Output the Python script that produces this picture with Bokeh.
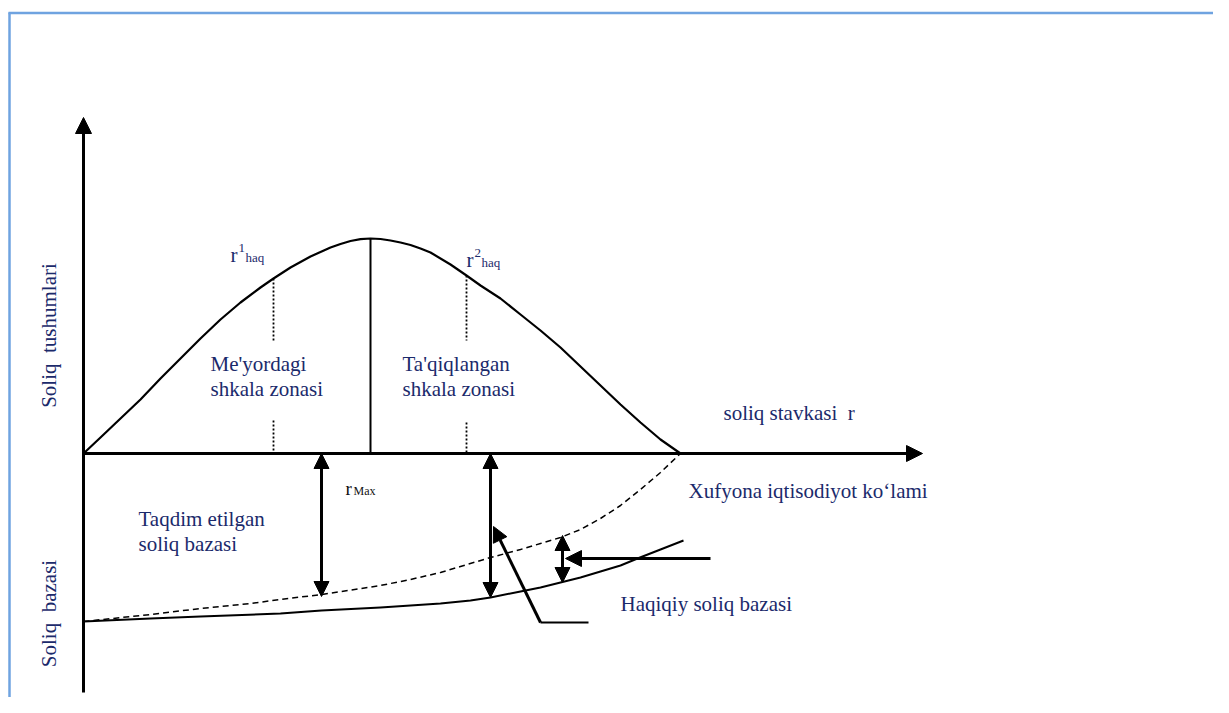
from bokeh.plotting import figure
from bokeh.models import Range1d, Arrow, NormalHead
from bokeh.core.properties import value
from bokeh.embed import file_html
from bokeh.resources import INLINE
import math

# ---------------- data (diagram geometry) ----------------
# Laffer curve: tax revenue vs tax rate
laffer_x = [83, 100, 120, 140, 160, 180, 200, 220, 240, 260, 273, 290, 310, 320, 330, 340, 350, 360, 370,
            380, 390, 400, 410, 420, 430, 450, 466, 480, 500, 520, 540, 560, 580, 600, 620, 640, 660, 680]
laffer_y = [453, 437, 418, 399, 378, 358, 338, 319, 302, 287, 278, 267, 256, 251.5, 247, 243.5, 240.5, 238.7, 238,
            238.5, 240, 242, 244.5, 248, 252, 264, 275, 285, 298, 314, 330, 347, 366, 385, 404, 422, 439, 453]

# declared (presented) tax base - dashed
declared_x = [83, 150, 200, 250, 280, 321, 380, 410, 440, 460, 490, 520, 540, 560, 580, 600, 620, 640, 660, 680]
declared_y = [621, 614, 608, 603, 599, 594, 585, 579, 572, 566, 557, 549, 543, 537, 529, 518, 505, 489, 472, 453]

# actual tax base - solid
actual_x = [83, 150, 200, 280, 321, 380, 440, 470, 490, 520, 540, 560, 580, 600, 620, 637, 660, 683]
actual_y = [621, 618, 616, 613, 610, 607, 603, 600, 597, 591, 587, 582, 577, 571, 565, 558, 549, 540]

origin = (83, 453)
x_axis_end = 922
y_axis_top = 117
y_axis_bottom = 692
peak = (370, 238)

# dotted markers for r1haq, r2haq
dotted_x = [273, 466]
dotted_top = [278, 275]
dotted_mid1 = [340, 340]
dotted_mid2 = [420, 422]

# vertical double arrows (x, y_top, y_bottom)
double_x = [321, 490, 562]
double_top = [453, 453, 535]
double_bot = [596, 597, 582]

# horizontal arrow
harrow = dict(x0=710, x1=565, y=558)
# pointer arrow (foot segment + slanted arrow)
pointer_foot_x = [588, 540]
pointer_foot_y = [622, 622]
pointer_tip = (493, 526)

navy = "#1b2a6b"
serif = "Liberation Serif"

# texts: label, x, y(baseline), size, color
texts = [
    ("Me'yordagi", 210, 363, 21, navy),
    ("shkala zonasi", 210, 388, 21, navy),
    ("Ta'qiqlangan", 402, 363, 21, navy),
    ("shkala zonasi", 402, 388, 21, navy),
    ("soliq stavkasi\u00a0 r", 723, 412, 21, navy),
    ("Xufyona iqtisodiyot ko\u2018lami", 688, 490, 21, navy),
    ("Taqdim etilgan", 138, 518, 21, navy),
    ("soliq bazasi", 138, 543, 21, navy),
    ("Haqiqiy soliq bazasi", 620, 603, 21, navy),
    ("r", 230, 254, 21, navy),
    ("1", 238, 247, 13, navy),
    ("haq", 245, 257, 13, navy),
    ("r", 466, 259, 21, navy),
    ("2", 474, 252, 13, navy),
    ("haq", 481, 262, 13, navy),
    ("r", 345, 488, 19, "#111111"),
    ("Max", 353, 490, 12, "#111111"),
]
vtexts = [
    ("Soliq\u00a0 tushumlari", 48, 335),
    ("Soliq\u00a0 bazasi", 48, 613),
]

# ---------------- figure ----------------
W, H = 1213, 697
p = figure(width=W, height=H, x_range=Range1d(0, W), y_range=Range1d(H, 0),
           output_backend="svg", toolbar_location=None, min_border=0,
           x_axis_type=None, y_axis_type=None)
p.grid.visible = False
p.outline_line_color = None
p.background_fill_color = "white"
p.border_fill_color = "white"

# blue frame (top and left)
p.line([8, W], [12.5, 12.5], line_color="#6fa3e0", line_width=2.5)
p.line([9, 9], [12, H], line_color="#6fa3e0", line_width=2.5)

# axes
p.add_layout(Arrow(end=NormalHead(size=16, fill_color="black", line_color="black"),
                   x_start=origin[0], y_start=y_axis_bottom, x_end=origin[0], y_end=y_axis_top,
                   line_width=3, line_color="black"))
p.add_layout(Arrow(end=NormalHead(size=16, fill_color="black", line_color="black"),
                   x_start=origin[0], y_start=origin[1], x_end=x_axis_end, y_end=origin[1],
                   line_width=3, line_color="black"))

# Laffer curve
p.line(laffer_x, laffer_y, line_color="black", line_width=2.2, line_join="round")
# peak vertical
p.line([peak[0], peak[0]], [peak[1], origin[1]], line_color="black", line_width=2)
# dotted markers
for i in range(len(dotted_x)):
    p.line([dotted_x[i], dotted_x[i]], [dotted_top[i], dotted_mid1[i]],
           line_color="black", line_width=1.8, line_dash="2 2")
    p.line([dotted_x[i], dotted_x[i]], [dotted_mid2[i], origin[1]],
           line_color="black", line_width=1.8, line_dash="2 2")

# tax base curves
p.line(declared_x, declared_y, line_color="black", line_width=1.5, line_dash="6 4")
p.line(actual_x, actual_y, line_color="black", line_width=2, line_join="round")

# vertical double arrows
for i in range(len(double_x)):
    p.add_layout(Arrow(start=NormalHead(size=15, fill_color="black", line_color="black"),
                       end=NormalHead(size=15, fill_color="black", line_color="black"),
                       x_start=double_x[i], y_start=double_top[i],
                       x_end=double_x[i], y_end=double_bot[i],
                       line_width=3, line_color="black"))

# horizontal arrow
p.add_layout(Arrow(end=NormalHead(size=16, fill_color="black", line_color="black"),
                   x_start=harrow["x0"], y_start=harrow["y"], x_end=harrow["x1"], y_end=harrow["y"],
                   line_width=3, line_color="black"))

# pointer
p.line(pointer_foot_x, pointer_foot_y, line_color="black", line_width=2)
p.add_layout(Arrow(end=NormalHead(size=15, fill_color="black", line_color="black"),
                   x_start=pointer_foot_x[1], y_start=pointer_foot_y[1],
                   x_end=pointer_tip[0], y_end=pointer_tip[1],
                   line_width=3, line_color="black"))

# texts
for (t, x, y, s, c) in texts:
    p.text(x=[x], y=[y], text=[t], text_font=value(serif), text_font_size=f"{s}px",
           text_color=c, text_align="left", text_baseline="alphabetic")
for (t, x, y) in vtexts:
    p.text(x=[x], y=[y], text=[t], text_font=value(serif), text_font_size="21px",
           text_color=navy, text_align="center", text_baseline="middle", angle=math.pi / 2)

open("out.html", "w").write(file_html(p, INLINE))
